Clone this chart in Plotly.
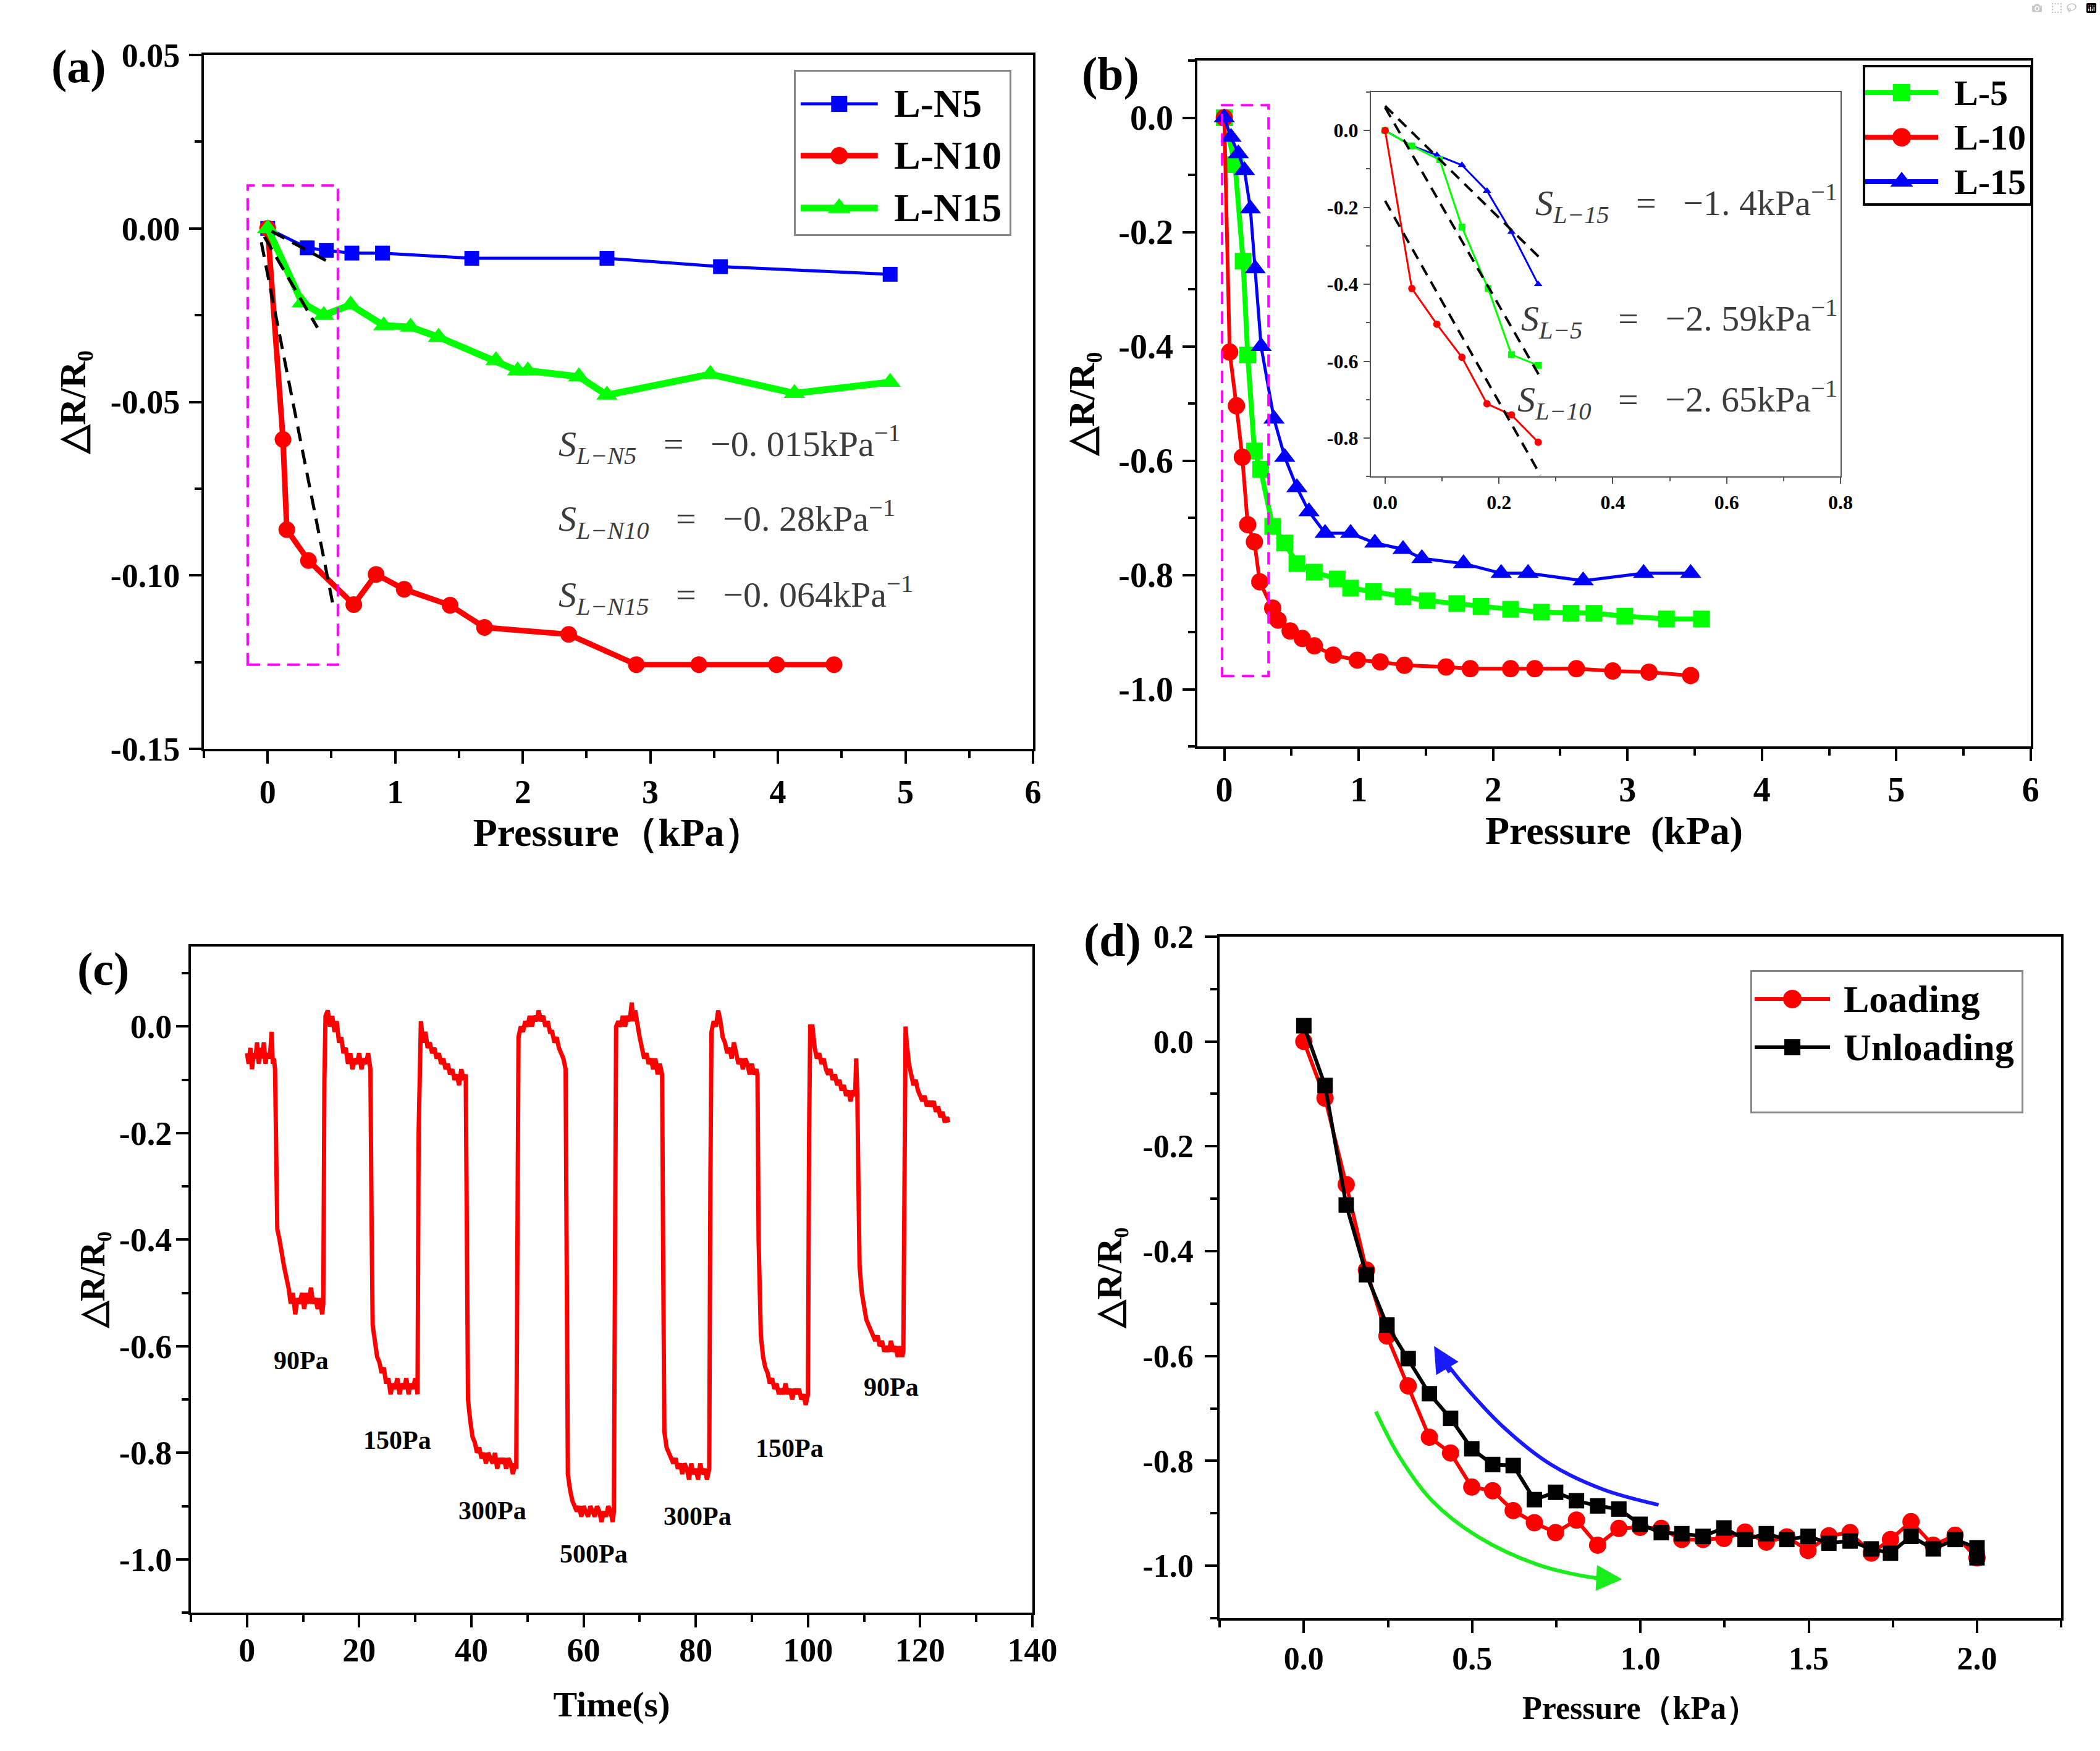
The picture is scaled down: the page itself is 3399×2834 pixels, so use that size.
import plotly.graph_objects as go

SERIF = "Liberation Serif"
BLUE, RED, GREEN, MAG = "#0000ff", "#ff0000", "#00ff00", "#ff00ff"
NB = "\u00a0"

# ---------------- Panel (a) data ----------------
a_n5_x = [0, 0.31, 0.46, 0.66, 0.90, 1.60, 2.66, 3.55, 4.88]
a_n5_y = [0, -0.0056, -0.0063, -0.0071, -0.0071, -0.0086, -0.0086, -0.0110, -0.0132]
a_n10_x = [0, 0.12, 0.15, 0.32, 0.675, 0.85, 1.07, 1.43, 1.70, 2.36, 2.89, 3.38, 3.99, 4.44]
a_n10_y = [0, -0.0608, -0.0868, -0.0957, -0.1084, -0.0997, -0.1040, -0.1086, -0.1150,
           -0.1170, -0.1257, -0.1257, -0.1257, -0.1257]
a_n15_x = [0, 0.27, 0.44, 0.65, 0.91, 1.12, 1.34, 1.79, 1.96, 2.04, 2.44, 2.66, 3.47, 4.13, 4.88]
a_n15_y = [0, -0.0214, -0.0250, -0.0220, -0.0280, -0.0284, -0.0313, -0.0380, -0.0410,
           -0.0410, -0.0427, -0.0480, -0.0420, -0.0475, -0.0443]
a_fit_x = [[0.03, 0.47], [-0.026, 0.39], [-0.05, 0.51]]
a_fit_y = [[-0.0008, -0.0095], [-0.0024, -0.0286], [-0.0040, -0.1081]]
a_box_x = [-0.157, 0.55]
a_box_y = [-0.1257, 0.0124]
a_texts = ["<i>S</i><sub><i>L−N5</i></sub>" + NB * 3 + "=" + NB * 3 + "−0." + NB + "015kPa<sup>−1</sup>",
           "<i>S</i><sub><i>L−N10</i></sub>" + NB * 3 + "=" + NB * 3 + "−0." + NB + "28kPa<sup>−1</sup>",
           "<i>S</i><sub><i>L−N15</i></sub>" + NB * 3 + "=" + NB * 3 + "−0." + NB + "064kPa<sup>−1</sup>"]
a_text_x = [2.27, 2.27, 2.27]
a_text_y = [-0.0622, -0.0837, -0.1056]
a_names = ["L-N5", "L-N10", "L-N15"]

# ---------------- Panel (b) data ----------------
b5_x = [0, 0.08, 0.14, 0.174, 0.224, 0.27, 0.36, 0.45, 0.54, 0.67, 0.84, 0.94, 1.11, 1.33,
        1.51, 1.73, 1.91, 2.13, 2.36, 2.58, 2.75, 2.98, 3.29, 3.55]
b5_y = [0, -0.082, -0.251, -0.415, -0.583, -0.615, -0.715, -0.744, -0.780, -0.795, -0.807,
        -0.823, -0.829, -0.838, -0.845, -0.850, -0.855, -0.860, -0.865, -0.867, -0.867,
        -0.872, -0.877, -0.877]
b10_x = [0, 0.04, 0.09, 0.134, 0.174, 0.224, 0.264, 0.36, 0.40, 0.49, 0.58, 0.67, 0.81, 0.99,
         1.16, 1.34, 1.65, 1.83, 2.13, 2.31, 2.62, 2.89, 3.16, 3.47]
b10_y = [0, -0.410, -0.504, -0.594, -0.712, -0.742, -0.812, -0.858, -0.879, -0.898, -0.911,
         -0.924, -0.940, -0.949, -0.952, -0.958, -0.961, -0.964, -0.964, -0.964, -0.964,
         -0.968, -0.970, -0.976]
b15_x = [0, 0.05, 0.105, 0.15, 0.194, 0.23, 0.274, 0.37, 0.45, 0.54, 0.63, 0.75, 0.94, 1.12,
         1.33, 1.47, 1.78, 2.06, 2.26, 2.67, 3.12, 3.47]
b15_y = [0, -0.034, -0.063, -0.092, -0.159, -0.264, -0.400, -0.527, -0.594, -0.647, -0.689,
         -0.727, -0.727, -0.744, -0.755, -0.771, -0.780, -0.797, -0.797, -0.810, -0.797, -0.797]
b_box_x = [-0.016, 0.329]
b_box_y = [-0.977, 0.022]
b_names = ["L-5", "L-10", "L-15"]

# inset of (b)
i15_x = [0, 0.047, 0.091, 0.135, 0.179, 0.222, 0.269]
i15_y = [0, -0.040, -0.064, -0.090, -0.157, -0.264, -0.400]
i5_x = [0, 0.047, 0.096, 0.135, 0.181, 0.222, 0.269]
i5_y = [0, -0.040, -0.076, -0.251, -0.411, -0.583, -0.611]
i10_x = [0, 0.047, 0.091, 0.135, 0.179, 0.222, 0.269]
i10_y = [0, -0.411, -0.504, -0.590, -0.711, -0.740, -0.811]
i_fit_x = [[0, 0.273], [0, 0.273], [0, 0.273]]
i_fit_y = [[0.064, -0.333], [0.060, -0.643], [-0.183, -0.897]]
i_texts = ["<i>S</i><sub><i>L−15</i></sub>" + NB * 3 + "=" + NB * 3 + "−1." + NB + "4kPa<sup>−1</sup>",
           "<i>S</i><sub><i>L−5</i></sub>" + NB * 4 + "=" + NB * 3 + "−2." + NB + "59kPa<sup>−1</sup>",
           "<i>S</i><sub><i>L−10</i></sub>" + NB * 3 + "=" + NB * 3 + "−2." + NB + "65kPa<sup>−1</sup>"]
i_text_x = [0.797, 0.797, 0.797]
i_text_y = [-0.19, -0.49, -0.70]

# ---------------- Panel (c) data ----------------
c_t = [0.0, 0.3, 0.6, 0.9, 1.2, 1.5, 1.8, 2.1, 2.4, 2.7, 3.0, 3.3, 3.6, 3.9, 4.2, 4.4, 4.6, 4.8, 5.0,
       5.2, 5.4, 5.8, 6.2, 6.6, 7.0, 7.4, 7.8, 8.2, 8.6, 9.0, 9.4, 9.8, 10.2, 10.6, 11.0, 11.4, 11.8,
       12.2, 12.6, 13.0, 13.4, 13.6,
       13.8, 14.0, 14.4, 14.8, 15.2, 15.6, 16.0, 16.4, 16.8, 17.2, 17.6, 18.0, 18.4, 18.8, 19.2, 19.6,
       20.0, 20.4, 20.8, 21.2, 21.6, 22.0,
       22.2, 22.4, 22.8, 23.2, 23.6, 24.0, 24.4, 24.8, 25.2, 25.6, 26.0, 26.4, 26.8, 27.2, 27.6, 28.0,
       28.4, 28.8, 29.2, 29.6, 30.0, 30.4,
       30.6, 30.8, 31.0, 31.4, 31.8, 32.2, 32.6, 33.0, 33.4, 33.8, 34.2, 34.6, 35.0, 35.4, 35.8, 36.2,
       36.6, 37.0, 37.4, 37.8, 38.2, 38.6, 39.0,
       39.2, 39.4, 39.8, 40.2, 40.6, 41.0, 41.4, 41.8, 42.2, 42.6, 43.0, 43.4, 43.8, 44.2, 44.6, 45.0,
       45.4, 45.8, 46.2, 46.6, 47.0, 47.4, 47.8, 48.0,
       48.2, 48.4, 48.8, 49.2, 49.6, 50.0, 50.4, 50.8, 51.2, 51.6, 52.0, 52.4, 52.8, 53.2, 53.6, 54.0,
       54.4, 54.8, 55.2, 55.6, 56.0, 56.4, 56.8,
       57.0, 57.2, 57.6, 58.0, 58.4, 58.8, 59.2, 59.6, 60.0, 60.4, 60.8, 61.2, 61.6, 62.0, 62.4, 62.8,
       63.2, 63.6, 64.0, 64.4, 64.8, 65.2, 65.4,
       65.6, 65.8, 66.2, 66.6, 67.0, 67.4, 67.8, 68.2, 68.6, 68.8, 69.2, 69.6, 70.0, 70.4, 70.8, 71.2,
       71.6, 72.0, 72.4, 72.8, 73.2, 73.6, 74.0,
       74.2, 74.4, 74.8, 75.2, 75.6, 76.0, 76.4, 76.8, 77.2, 77.6, 78.0, 78.4, 78.8, 79.2, 79.6, 80.0,
       80.4, 80.8, 81.2, 81.6, 82.0, 82.4,
       82.6, 82.8, 83.2, 83.6, 84.0, 84.4, 84.8, 85.2, 85.6, 86.0, 86.4, 86.8, 87.2, 87.6, 88.0, 88.4,
       88.8, 89.2, 89.6, 90.0, 90.4, 90.8, 91.0,
       91.2, 91.6, 92.0, 92.4, 92.8, 93.2, 93.6, 94.0, 94.4, 94.8, 95.2, 95.6, 96.0, 96.4, 96.8, 97.2,
       97.6, 98.0, 98.4, 98.8, 99.2, 99.6, 100.0,
       100.2, 100.4, 100.8, 101.2, 101.6, 102.0, 102.4, 102.8, 103.2, 103.6, 104.0, 104.4, 104.8,
       105.2, 105.6, 106.0, 106.4, 106.8, 107.2, 107.6, 108.0, 108.4, 108.6, 108.8,
       109.0, 109.2, 109.6, 110.0, 110.4, 110.8, 111.2, 111.6, 112.0, 112.4, 112.8, 113.2, 113.6,
       114.0, 114.4, 114.8, 115.2, 115.6, 116.0, 116.4, 116.8, 117.0,
       117.2, 117.4, 117.6, 118.0, 118.4, 118.8, 119.2, 119.6, 120.0, 120.4, 120.8, 121.2, 121.6,
       122.0, 122.4, 122.8, 123.2, 123.6, 124.0, 124.4, 124.8, 125.0]
c_v = [-0.05, -0.07, -0.04, -0.08, -0.05, -0.06, -0.03, -0.07, -0.04, -0.06, -0.03, -0.07, -0.05,
       -0.06, -0.04, -0.01, -0.07, -0.06, -0.08,
       -0.30, -0.38, -0.40, -0.43, -0.45, -0.47, -0.49, -0.52, -0.50, -0.54, -0.51, -0.52, -0.50,
       -0.53, -0.50, -0.52, -0.49, -0.52, -0.51, -0.53, -0.51, -0.54, -0.52,
       -0.10, 0.02, 0.03, 0.00, 0.02, -0.01, 0.01, -0.03, -0.02, -0.05, -0.04, -0.07, -0.05, -0.08,
       -0.06, -0.07, -0.05, -0.08, -0.06, -0.07, -0.05, -0.08,
       -0.35, -0.56, -0.59, -0.62, -0.63, -0.65, -0.64, -0.67, -0.66, -0.69, -0.67, -0.68, -0.66,
       -0.69, -0.67, -0.68, -0.66, -0.69, -0.67, -0.68, -0.66, -0.69,
       -0.20, 0.00, 0.01, -0.03, -0.01, -0.04, -0.03, -0.05, -0.04, -0.06, -0.05, -0.07, -0.06,
       -0.08, -0.07, -0.09, -0.08, -0.10, -0.09, -0.11, -0.08, -0.10, -0.09,
       -0.40, -0.70, -0.74, -0.77, -0.78, -0.80, -0.79, -0.81, -0.80, -0.82, -0.80, -0.81, -0.82,
       -0.80, -0.83, -0.81, -0.82, -0.81, -0.83, -0.81, -0.82, -0.84, -0.82, -0.83,
       -0.30, -0.02, 0.00, -0.01, 0.01, 0.00, 0.02, 0.00, 0.02, 0.01, 0.03, 0.01, 0.02, 0.00, 0.01,
       -0.01, -0.01, -0.03, -0.02, -0.04, -0.05, -0.06, -0.08,
       -0.50, -0.84, -0.87, -0.89, -0.90, -0.91, -0.90, -0.92, -0.90, -0.91, -0.92, -0.90, -0.91,
       -0.92, -0.90, -0.91, -0.93, -0.91, -0.92, -0.90, -0.91, -0.93, -0.91,
       -0.40, 0.00, 0.01, 0.00, 0.02, 0.00, 0.02, 0.01, 0.045, 0.01, 0.03, 0.00, -0.02, -0.04, -0.06,
       -0.05, -0.07, -0.06, -0.08, -0.06, -0.09, -0.07, -0.09,
       -0.45, -0.76, -0.79, -0.80, -0.81, -0.82, -0.81, -0.83, -0.82, -0.84, -0.82, -0.83, -0.85,
       -0.82, -0.84, -0.83, -0.85, -0.82, -0.84, -0.83, -0.85, -0.83,
       -0.30, -0.01, 0.01, 0.00, 0.03, 0.01, -0.02, -0.03, -0.05, -0.04, -0.06, -0.03, -0.05, -0.07,
       -0.06, -0.08, -0.06, -0.07, -0.09, -0.07, -0.09, -0.08, -0.09,
       -0.40, -0.58, -0.62, -0.64, -0.65, -0.67, -0.66, -0.68, -0.67, -0.69, -0.68, -0.69, -0.67,
       -0.69, -0.68, -0.70, -0.68, -0.69, -0.68, -0.70, -0.69, -0.71, -0.69,
       -0.20, 0.00, 0.00, -0.04, -0.06, -0.05, -0.07, -0.06, -0.08, -0.09, -0.08, -0.10, -0.09,
       -0.11, -0.10, -0.12, -0.11, -0.13, -0.12, -0.14, -0.12, -0.13, -0.06, -0.13,
       -0.30, -0.45, -0.50, -0.53, -0.55, -0.56, -0.57, -0.58, -0.59, -0.58, -0.60, -0.59, -0.61,
       -0.60, -0.61, -0.59, -0.61, -0.60, -0.62, -0.60, -0.62, -0.61,
       -0.20, 0.00, -0.03, -0.07, -0.09, -0.11, -0.10, -0.12, -0.13, -0.14, -0.13, -0.15, -0.14,
       -0.15, -0.14, -0.16, -0.15, -0.17, -0.16, -0.18, -0.17, -0.18]
c_labels = ["90Pa", "150Pa", "300Pa", "500Pa", "300Pa", "150Pa", "90Pa"]
c_label_t = [9.7, 26.8, 43.7, 61.8, 80.3, 96.7, 114.8]
c_label_v = [-0.627, -0.776, -0.909, -0.990, -0.919, -0.792, -0.677]

# ---------------- Panel (d) data ----------------
d_load_x = [0, 0.063, 0.126, 0.186, 0.247, 0.31, 0.373, 0.436, 0.499, 0.561, 0.622, 0.685, 0.748,
            0.81, 0.873, 0.936, 0.999, 1.062, 1.123, 1.186, 1.248, 1.311, 1.374, 1.435, 1.498,
            1.56, 1.623, 1.686, 1.743, 1.804, 1.87, 1.935, 2.0]
d_load_y = [0, -0.108, -0.273, -0.436, -0.562, -0.657, -0.755, -0.785, -0.850, -0.857, -0.895,
            -0.918, -0.937, -0.913, -0.961, -0.929, -0.927, -0.929, -0.950, -0.950, -0.948,
            -0.936, -0.955, -0.945, -0.971, -0.943, -0.937, -0.976, -0.950, -0.916, -0.961,
            -0.942, -0.985]
d_unload_x = [0, 0.063, 0.126, 0.186, 0.247, 0.31, 0.373, 0.436, 0.499, 0.561, 0.622, 0.685, 0.748,
              0.81, 0.873, 0.936, 0.999, 1.062, 1.123, 1.186, 1.248, 1.311, 1.374, 1.435, 1.498,
              1.56, 1.623, 1.686, 1.743, 1.804, 1.87, 1.935, 2.0, 2.0]
d_unload_y = [0.03, -0.084, -0.312, -0.445, -0.541, -0.605, -0.672, -0.719, -0.777, -0.807,
              -0.809, -0.874, -0.860, -0.876, -0.886, -0.892, -0.921, -0.937, -0.939, -0.944,
              -0.928, -0.950, -0.939, -0.950, -0.944, -0.957, -0.953, -0.968, -0.976, -0.944,
              -0.968, -0.950, -0.966, -0.985]
d_names = ["Loading", "Unloading"]
blue_arc_x = [1.054, 0.891, 0.734, 0.597, 0.479, 0.405]
blue_arc_y = [-0.884, -0.855, -0.807, -0.738, -0.658, -0.598]
green_arc_x = [0.214, 0.283, 0.381, 0.518, 0.695, 0.852, 0.90]
green_arc_y = [-0.706, -0.791, -0.876, -0.945, -0.998, -1.022, -1.025]

# ---------------- helpers ----------------
def axis(domain, anchor, rng, tickvals, ticktext, minor_dtick, size, title=None, tsize=60,
         standoff=10, lstand=0, ticklen=20, lw=4, lcolor="black", minor_len=11):
    d = dict(domain=domain, anchor=anchor, range=rng, showline=True, linecolor=lcolor,
             linewidth=lw, mirror=True, ticks="outside", ticklen=ticklen, tickwidth=lw,
             tickcolor=lcolor, showgrid=False, zeroline=False, tickmode="array",
             tickvals=tickvals, ticktext=ticktext, ticklabelstandoff=lstand,
             tickfont=dict(family=SERIF, size=size, color="black", weight="bold"),
             minor=dict(ticks="outside", ticklen=minor_len, tickwidth=lw, tickcolor=lcolor,
                        tickmode="linear", tick0=0, dtick=minor_dtick, showgrid=False),
             fixedrange=True)
    if title:
        d["title"] = dict(text=title, standoff=standoff,
                          font=dict(family=SERIF, size=tsize, color="black", weight="bold"))
    return d


def legend_axis(domain, anchor, color, width):
    return dict(domain=domain, anchor=anchor, range=[0, 1], showline=True, linecolor=color,
                linewidth=width, mirror=True, ticks="", showticklabels=False, showgrid=False,
                zeroline=False, fixedrange=True)


fig = go.Figure()

def line_trace(x, y, color, width, symbol, msize, xa, ya, name, dash=None):
    return go.Scatter(x=x, y=y, mode="lines+markers" if symbol else "lines", name=name,
                      line=dict(color=color, width=width, dash=dash),
                      marker=dict(symbol=symbol or "circle", size=msize, color=color),
                      xaxis=xa, yaxis=ya, showlegend=False, hoverinfo="skip")

# (a)
fig.add_trace(line_trace(a_n5_x, a_n5_y, BLUE, 5, "square", 24, "x", "y", a_names[0]))
fig.add_trace(line_trace(a_n10_x, a_n10_y, RED, 9, "circle", 27, "x", "y", a_names[1]))
fig.add_trace(line_trace(a_n15_x, a_n15_y, GREEN, 11, "triangle-up", 30, "x", "y", a_names[2]))
for fx, fy in zip(a_fit_x, a_fit_y):
    fig.add_trace(line_trace(fx, fy, "black", 5, None, 0, "x", "y", "fit", dash="24px,14px"))

# (b)
fig.add_trace(line_trace(b5_x, b5_y, GREEN, 8, "square", 27, "x2", "y2", b_names[0]))
fig.add_trace(line_trace(b10_x, b10_y, RED, 6, "circle", 28, "x2", "y2", b_names[1]))
fig.add_trace(line_trace(b15_x, b15_y, BLUE, 5, "triangle-up", 30, "x2", "y2", b_names[2]))

# inset
fig.add_trace(line_trace(i15_x, i15_y, BLUE, 3, "triangle-up", 12, "x3", "y3", "L-15"))
fig.add_trace(line_trace(i5_x, i5_y, GREEN, 3, "square", 11, "x3", "y3", "L-5"))
fig.add_trace(line_trace(i10_x, i10_y, RED, 3, "circle", 12, "x3", "y3", "L-10"))
for fx, fy in zip(i_fit_x, i_fit_y):
    fig.add_trace(line_trace(fx, fy, "black", 4, None, 0, "x3", "y3", "fit", dash="18px,12px"))

# (c)
fig.add_trace(go.Scatter(x=c_t, y=c_v, mode="lines", line=dict(color=RED, width=7),
                         xaxis="x4", yaxis="y4", showlegend=False, hoverinfo="skip", name="ΔR/R0"))

# (d)
fig.add_trace(line_trace(d_load_x, d_load_y, RED, 6, "circle", 28, "x5", "y5", d_names[0]))
fig.add_trace(line_trace(d_unload_x, d_unload_y, "black", 6, "square", 25, "x5", "y5", d_names[1]))
fig.add_trace(go.Scatter(x=blue_arc_x, y=blue_arc_y, mode="lines", line=dict(color="#1a1aff", width=6, shape="spline"),
                         xaxis="x5", yaxis="y5", showlegend=False, hoverinfo="skip"))
fig.add_trace(go.Scatter(x=green_arc_x, y=green_arc_y, mode="lines", line=dict(color="#1aee1a", width=6, shape="spline"),
                         xaxis="x5", yaxis="y5", showlegend=False, hoverinfo="skip"))

# ---------------- manual legends ----------------
def legend_rows(xa, ya, names, colors, widths, symbols, msizes, rows, lx, tx, fsize):
    for n, c, w, s, m, r in zip(names, colors, widths, symbols, msizes, rows):
        fig.add_trace(go.Scatter(x=[lx[0], lx[1]], y=[r, r], mode="lines",
                                 line=dict(color=c, width=w),
                                 xaxis=xa, yaxis=ya, showlegend=False, hoverinfo="skip"))
        fig.add_trace(go.Scatter(x=[(lx[0] + lx[1]) / 2], y=[r], mode="markers",
                                 marker=dict(symbol=s, size=m, color=c),
                                 xaxis=xa, yaxis=ya, showlegend=False, hoverinfo="skip"))
        fig.add_annotation(x=tx, y=r, xref=xa, yref=ya, text=n, showarrow=False, xanchor="left",
                           yanchor="middle",
                           font=dict(family=SERIF, size=fsize, color="black", weight="bold"))

legend_rows("x6", "y6", a_names, [BLUE, RED, GREEN], [5, 9, 11], ["square", "circle", "triangle-up"],
            [26, 28, 32], [0.802, 0.483, 0.160], [0.023, 0.384], 0.455, 64)
legend_rows("x7", "y7", b_names, [GREEN, RED, BLUE], [8, 8, 8], ["square", "circle", "triangle-up"],
            [28, 30, 32], [0.814, 0.486, 0.159], [0.0, 0.442], 0.53, 58)
legend_rows("x8", "y8", d_names, [RED, "black"], [6, 6], ["circle", "square"],
            [30, 26], [0.805, 0.460], [0.009, 0.289], 0.335, 62)

# ---------------- layout ----------------
ya_vals = [0.05, 0.0, -0.05, -0.10, -0.15]
ya_text = ["0.05", "0.00", "-0.05", "-0.10", "-0.15"]
x06 = [0, 1, 2, 3, 4, 5, 6]
x06_text = [str(v) for v in x06]
yb_vals = [0.0, -0.2, -0.4, -0.6, -0.8, -1.0]
yb_text = ["0.0", "-0.2", "-0.4", "-0.6", "-0.8", "-1.0"]
xi_vals = [0.0, 0.2, 0.4, 0.6, 0.8]
xi_text = ["0.0", "0.2", "0.4", "0.6", "0.8"]
yi_vals = [0.0, -0.2, -0.4, -0.6, -0.8]
yi_text = ["0.0", "-0.2", "-0.4", "-0.6", "-0.8"]
xc_vals = [0, 20, 40, 60, 80, 100, 120, 140]
xc_text = [str(v) for v in xc_vals]
xd_vals = [0.0, 0.5, 1.0, 1.5, 2.0]
xd_text = ["0.0", "0.5", "1.0", "1.5", "2.0"]
yd_vals = [0.2, 0.0, -0.2, -0.4, -0.6, -0.8, -1.0]
yd_text = ["0.2", "0.0", "-0.2", "-0.4", "-0.6", "-0.8", "-1.0"]

YT = "△R/R₀"

fig.update_layout(
    width=3399, height=2834, margin=dict(l=0, r=0, t=0, b=0),
    paper_bgcolor="white", plot_bgcolor="rgba(0,0,0,0)", template="none", showlegend=False,
    xaxis=axis([0.0971, 0.4919], "y", [-0.5, 6], x06, x06_text, 0.5, 54, "Pressure（kPa）", 64, 0, -1),
    yaxis=axis([0.5723, 0.9686], "x", [-0.15, 0.05], ya_vals, ya_text, 0.025, 54, YT, 60, 22, 4),
    xaxis2=axis([0.5702, 0.9670], "y2", [-0.2, 6], x06, x06_text, 0.5, 56, "Pressure" + NB * 2 + "(kPa)", 64, 0, -2),
    yaxis2=axis([0.5737, 0.9654], "x2", [-1.1, 0.1], yb_vals, yb_text, 0.1, 56, YT, 60, 20, 4),
    xaxis3=axis([0.6528, 0.8764], "y3", [-0.025, 0.8], xi_vals, xi_text, 0.1, 32, None, ticklen=10,
                lw=2, lcolor="#555555", minor_len=6, lstand=2),
    yaxis3=axis([0.7279, 0.9474], "x3", [-0.9, 0.1], yi_vals, yi_text, 0.1, 32, None, ticklen=10,
                lw=2, lcolor="#555555", minor_len=6, lstand=2),
    xaxis4=axis([0.0909, 0.4916], "y4", [-10, 140], xc_vals, xc_text, 10, 54, "Time(s)", 58, 38, -10),
    yaxis4=axis([0.0790, 0.4594], "x4", [-1.1, 0.15], yb_vals, yb_text, 0.1, 54, YT, 56, 6, -4),
    xaxis5=axis([0.5808, 0.9815], "y5", [-0.25, 2.25], xd_vals, xd_text, 0.25, 52, "Pressure（kPa）", 52, 34, -3),
    yaxis5=axis([0.0759, 0.4651], "x5", [-1.1, 0.2], yd_vals, yd_text, 0.1, 52, YT, 58, 16, 8),
    xaxis6=legend_axis([0.3789, 0.4807], "y6", "#888888", 3),
    yaxis6=legend_axis([0.8663, 0.9591], "x6", "#888888", 3),
    xaxis7=legend_axis([0.8882, 0.9668], "y7", "black", 4),
    yaxis7=legend_axis([0.8839, 0.9615], "x7", "black", 4),
    xaxis8=legend_axis([0.8344, 0.9626], "y8", "#888888", 3),
    yaxis8=legend_axis([0.3652, 0.4450], "x8", "#888888", 3),
)

# magenta dashed boxes
fig.add_shape(type="rect", xref="x", yref="y", x0=a_box_x[0], x1=a_box_x[1], y0=a_box_y[0], y1=a_box_y[1],
              line=dict(color=MAG, width=4, dash="20px,12px"))
fig.add_shape(type="rect", xref="x2", yref="y2", x0=b_box_x[0], x1=b_box_x[1], y0=b_box_y[0], y1=b_box_y[1],
              line=dict(color=MAG, width=4, dash="20px,12px"))

# slope annotations
for t, x, y in zip(a_texts, a_text_x, a_text_y):
    fig.add_annotation(x=x, y=y, xref="x", yref="y", text=t, showarrow=False, xanchor="left",
                       yanchor="middle", font=dict(family=SERIF, size=58, color="#3c3c3c"))
for t, x, y in zip(i_texts, i_text_x, i_text_y):
    fig.add_annotation(x=x, y=y, xref="x3", yref="y3", text=t, showarrow=False, xanchor="right",
                       yanchor="middle", font=dict(family=SERIF, size=58, color="#3c3c3c"))

# pressure labels in (c)
for t, x, y in zip(c_labels, c_label_t, c_label_v):
    fig.add_annotation(x=x, y=y, xref="x4", yref="y4", text=t, showarrow=False,
                       font=dict(family=SERIF, size=42, color="black", weight="bold"))

# arrowheads in (d)
fig.add_annotation(x=0.387, y=-0.581, ax=blue_arc_x[-1] + 0.03, ay=blue_arc_y[-1] - 0.035,
                   xref="x5", yref="y5", axref="x5", ayref="y5", text="", showarrow=True,
                   arrowhead=2, arrowsize=1.4, arrowwidth=6, arrowcolor="#1a1aff", standoff=0)
fig.add_annotation(x=0.946, y=-1.026, ax=green_arc_x[-1] - 0.04, ay=green_arc_y[-1] + 0.002,
                   xref="x5", yref="y5", axref="x5", ayref="y5", text="", showarrow=True,
                   arrowhead=2, arrowsize=1.4, arrowwidth=6, arrowcolor="#1aee1a", standoff=0)

# panel labels
for lab, px, py in [("(a)", 0.0374, 0.9620), ("(b)", 0.5287, 0.9577), ("(c)", 0.0491, 0.4467),
                    ("(d)", 0.5296, 0.4633)]:
    fig.add_annotation(x=px, y=py, xref="paper", yref="paper", text=lab, showarrow=False,
                       xanchor="center", yanchor="middle",
                       font=dict(family=SERIF, size=76, color="black", weight="bold"))

fig.write_html("out.html", post_script="document.body.style.margin='0';")
